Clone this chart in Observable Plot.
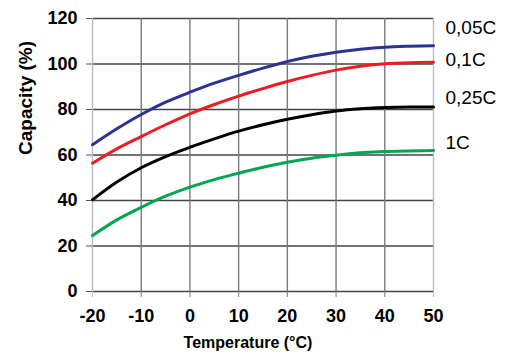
<!DOCTYPE html>
<html>
<head>
<meta charset="utf-8">
<script src="https://cdn.jsdelivr.net/npm/d3@7"></script>
<script src="https://cdn.jsdelivr.net/npm/@observablehq/plot@0.6"></script>
<style>
  html, body { margin: 0; padding: 0; background: #fff; }
  svg { display: block; }
</style>
</head>
<body>
<div id="chart"></div>
<script>
// Data
const temps = [-20, -15, -10, -5, 0, 5, 10, 15, 20, 25, 30, 35, 40, 45, 50];
const cap005C = [64.5, 71.5, 77.8, 83.2, 87.6, 91.6, 95.0, 98.2, 101.1, 103.4, 105.2, 106.5, 107.4, 107.8, 108.0];
const cap01C  = [56.4, 62.7, 68.1, 73.3, 78.1, 82.2, 85.9, 89.2, 92.3, 95.0, 97.3, 99.0, 100.1, 100.6, 100.8];
const cap025C = [40.3, 48.1, 54.4, 59.3, 63.4, 67.1, 70.5, 73.3, 75.7, 77.7, 79.3, 80.3, 80.9, 81.1, 81.1];
const cap1C   = [24.6, 31.5, 37.0, 41.9, 45.9, 49.2, 52.0, 54.6, 56.8, 58.6, 59.9, 61.0, 61.5, 61.8, 62.0];
const seriesNames = ["0,05C", "0,1C", "0,25C", "1C"];
const seriesColors = ["#2e3192", "#ed1c24", "#000000", "#00a651"];
const labelY = [116, 102, 85, 65.5];
const xTicks = [-20, -10, 0, 10, 20, 30, 40, 50];
const yTicks = [0, 20, 40, 60, 80, 100, 120];
const xTitle = "Temperature (°C)";
const yTitle = "Capacity (%)";

const allSeries = [cap005C, cap01C, cap025C, cap1C];
const rows = [];
allSeries.forEach((vals, i) => {
  vals.forEach((v, j) => rows.push({series: seriesNames[i], t: temps[j], c: v}));
});
const labels = seriesNames.map((s, i) => ({series: s, y: labelY[i]}));

const font = "'Liberation Sans', Arial, Helvetica, sans-serif";
const edge = d => (d === -20 || d === 50) ? "#bbb" : "#7a7a7a";

const chart = Plot.plot({
  width: 515,
  height: 357,
  marginTop: 18,
  marginRight: 82,
  marginBottom: 66,
  marginLeft: 92,
  style: {fontFamily: font, background: "#fff", overflow: "visible"},
  x: {domain: [-20, 50]},
  y: {domain: [0, 120]},
  color: {domain: seriesNames, range: seriesColors},
  marks: [
    Plot.gridY(yTicks, {stroke: "#444", strokeOpacity: 1, strokeWidth: 1.3}),
    Plot.gridX(xTicks, {stroke: edge, strokeOpacity: 1, strokeWidth: 1.4}),
    Plot.axisY(yTicks, {tickSize: 6, tickPadding: 9, stroke: "#555", fontSize: 18, fontWeight: "bold", fill: "#000", label: null}),
    Plot.axisX(xTicks, {tickSize: 6, tickPadding: 12, stroke: edge, fontSize: 18, fontWeight: "bold", fill: "#000", label: null, tickFormat: d => String(d)}),
    Plot.line(rows, {x: "t", y: "c", z: "series", stroke: "series", strokeWidth: 3, curve: "monotone-x"}),
    Plot.text(labels, {x: () => 50, y: "y", text: "series", textAnchor: "start", dx: 12, fontSize: 19, fill: "#000"}),
    Plot.text([yTitle], {frameAnchor: "left", rotate: -90, dx: -67, fontSize: 19, fontWeight: "bold", fill: "#000"}),
    Plot.text([xTitle], {frameAnchor: "bottom", dy: 56, dx: -15, fontSize: 16, fontWeight: "bold", fill: "#000"})
  ]
});
document.getElementById("chart").appendChild(chart);
</script>
</body>
</html>
